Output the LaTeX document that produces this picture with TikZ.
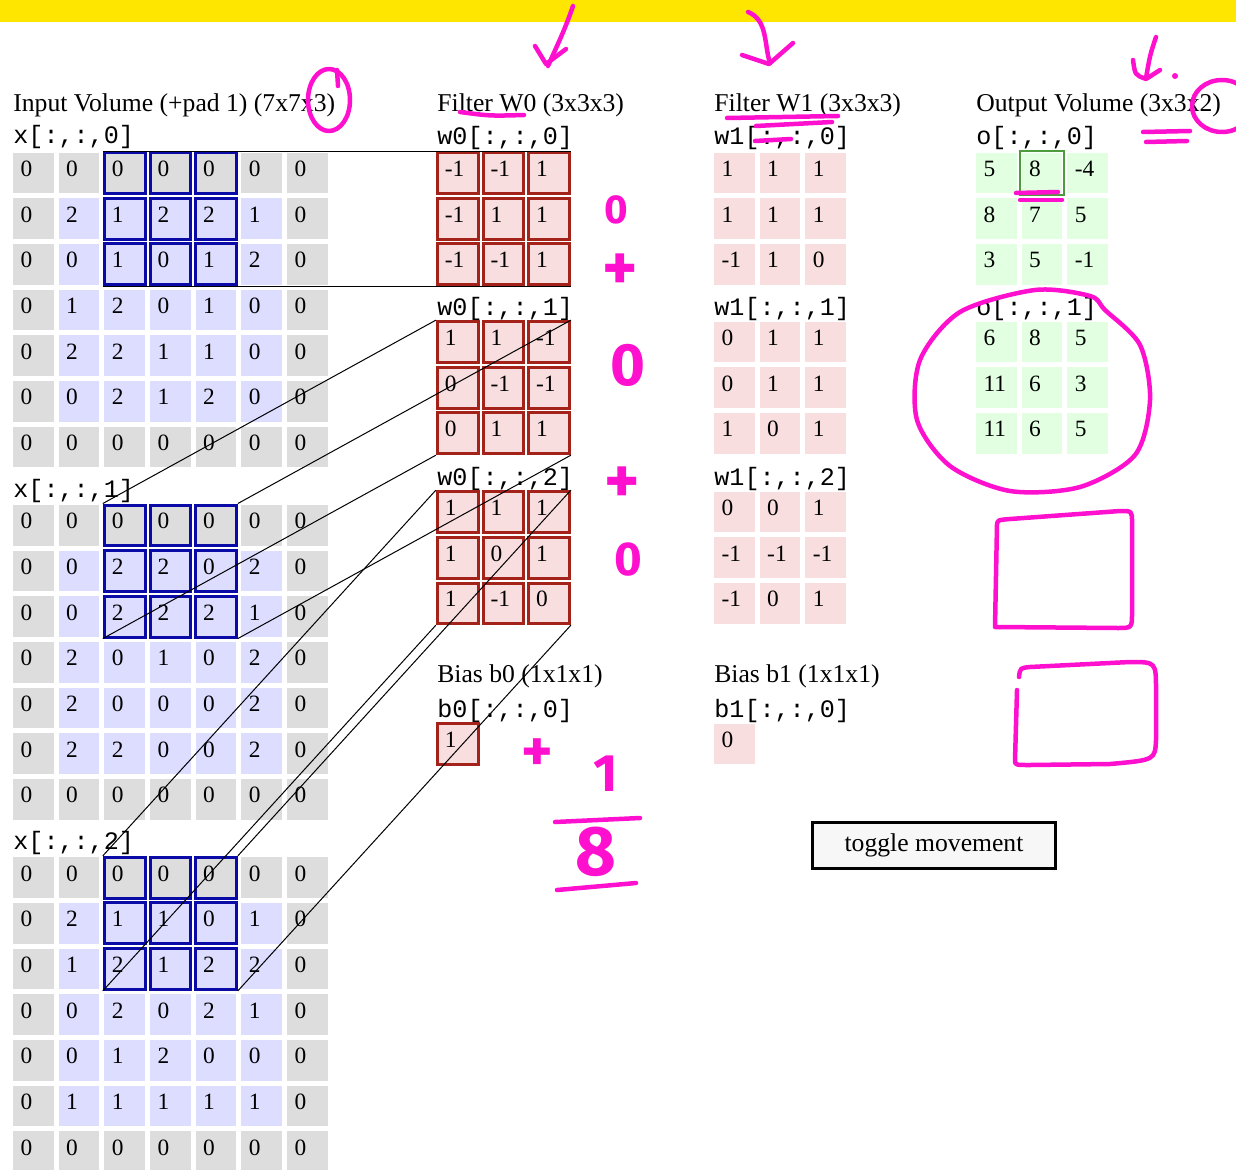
\documentclass[tikz,border=0pt]{standalone}
\usepackage{fontspec}
\setmainfont{Liberation Serif}
\setmonofont{Liberation Mono}
\newfontfamily\handfont{Fira Sans}

\definecolor{padgray}{HTML}{DDDDDD}
\definecolor{lavender}{HTML}{DDDDFF}
\definecolor{hlblue}{HTML}{0A0AA6}
\definecolor{wpink}{HTML}{F8DEDE}
\definecolor{wred}{HTML}{A3231A}
\definecolor{ogreen}{HTML}{E2FFE2}
\definecolor{hlgreen}{HTML}{4C9B3C}
\definecolor{inkpink}{HTML}{FF10CF}
\definecolor{baryellow}{HTML}{FFE600}
\definecolor{btngray}{HTML}{F7F7F7}

% 7x7 input slice: name, y of first row, rows
\newcommand{\padgrid}[3]{%
  \foreach \row [count=\ri from 0] in {#3} {
    \foreach \v [count=\ci from 0] in \row {
      \pgfmathtruncatemacro\pad{(\ri==0)||(\ri==6)||(\ci==0)||(\ci==6)}
      \pgfmathtruncatemacro\hl{(\ri<3)&&(\ci>1)&&(\ci<5)}
      \ifnum\pad=1 \def\fillc{padgray}\else\def\fillc{lavender}\fi
      \ifnum\hl=1 \def\drawc{hlblue}\else\def\drawc{none}\fi
      \node[cell, fill=\fillc, draw=\drawc] (#1-\ri-\ci)
        at (33.35+45.67*\ci, #2+45.67*\ri) {\v};
    }
  }
}

% 3x3 slice: name, x, y, style, rows
\newcommand{\wgrid}[5]{%
  \foreach \row [count=\ri from 0] in {#5} {
    \foreach \v [count=\ci from 0] in \row {
      \node[#4] (#1-\ri-\ci) at (#2+45.67*\ci, #3+45.67*\ri) {\v};
    }
  }
}

\begin{document}
\begin{tikzpicture}[
    x=0.02cm, y=-0.02cm,
    cell/.style={
	minimum width=0.814cm,
	minimum height=0.814cm,
	inner sep=0pt, inner xsep=0.15cm,
	text width=0.514cm, align=left,
	text depth=4.8pt,
	line width=0.06cm,
	font=\fontsize{13.3}{15}\selectfont
    },
    wcell/.style={cell, fill=wpink, draw=wred},
    vcell/.style={cell, fill=wpink},
    ocell/.style={cell, fill=ogreen},
    title/.style={anchor=base west, inner sep=0pt,
	font=\fontsize{14.6}{17}\selectfont},
    tag/.style={anchor=base west, inner sep=0pt,
	font=\fontsize{14.3}{17}\selectfont\ttfamily},
    link/.style={line width=0.02cm},
    ink/.style={draw=inkpink, line width=0.09cm, line cap=round, line join=round},
    hand/.style={text=inkpink, inner sep=0pt, font=\handfont\bfseries}
]
	\useasboundingbox (0,0) rectangle (1236,1169);
	\fill[baryellow] (0,0) rectangle (1236,22);

	% Titles
	\node[title] (intitle) at (13,112) {Input Volume (+pad 1) (7x7x3)};
	\node[title] (w0title) at (437,112) {Filter W0 (3x3x3)};
	\node[title] (w1title) at (714,112) {Filter W1 (3x3x3)};
	\node[title] (otitle) at (976,112) {Output Volume (3x3x2)};
	\node[title] (b0title) at (437,682) {Bias b0 (1x1x1)};
	\node[title] (b1title) at (714,682) {Bias b1 (1x1x1)};

	% Input volume
	\node[tag] (xl0) at (13,144) {x[:,:,0]};
	\padgrid{xk0}{173}{{0,0,0,0,0,0,0},{0,2,1,2,2,1,0},{0,0,1,0,1,2,0},
	    {0,1,2,0,1,0,0},{0,2,2,1,1,0,0},{0,0,2,1,2,0,0},{0,0,0,0,0,0,0}}
	\node[tag] (xl1) at (13,497) {x[:,:,1]};
	\padgrid{xk1}{525.35}{{0,0,0,0,0,0,0},{0,0,2,2,0,2,0},{0,0,2,2,2,1,0},
	    {0,2,0,1,0,2,0},{0,2,0,0,0,2,0},{0,2,2,0,0,2,0},{0,0,0,0,0,0,0}}
	\node[tag] (xl2) at (13,849) {x[:,:,2]};
	\padgrid{xk2}{877.65}{{0,0,0,0,0,0,0},{0,2,1,1,0,1,0},{0,1,2,1,2,2,0},
	    {0,0,2,0,2,1,0},{0,0,1,2,0,0,0},{0,1,1,1,1,1,0},{0,0,0,0,0,0,0}}

	% Filter W0
	\node[tag] (w0l0) at (437,145) {w0[:,:,0]};
	\wgrid{w0k0}{457.7}{173}{wcell}{{-1,-1,1},{-1,1,1},{-1,-1,1}}
	\node[tag] (w0l1) at (437,315) {w0[:,:,1]};
	\wgrid{w0k1}{457.7}{342}{wcell}{{1,1,-1},{0,-1,-1},{0,1,1}}
	\node[tag] (w0l2) at (437,485) {w0[:,:,2]};
	\wgrid{w0k2}{457.7}{512}{wcell}{{1,1,1},{1,0,1},{1,-1,0}}
	\node[tag] (b0l) at (437,717) {b0[:,:,0]};
	\node[wcell] (b0) at (457.7,744) {1};

	% Filter W1
	\node[tag] (w1l0) at (714,145) {w1[:,:,0]};
	\wgrid{w1k0}{734.4}{173}{vcell}{{1,1,1},{1,1,1},{-1,1,0}}
	\node[tag] (w1l1) at (714,315) {w1[:,:,1]};
	\wgrid{w1k1}{734.4}{342}{vcell}{{0,1,1},{0,1,1},{1,0,1}}
	\node[tag] (w1l2) at (714,485) {w1[:,:,2]};
	\wgrid{w1k2}{734.4}{512}{vcell}{{0,0,1},{-1,-1,-1},{-1,0,1}}
	\node[tag] (b1l) at (714,717) {b1[:,:,0]};
	\node[vcell] (b1) at (734.4,744) {0};

	% Output volume
	\node[tag] (ol0) at (976,145) {o[:,:,0]};
	\wgrid{ok0}{996.4}{173}{ocell}{{5,8,-4},{8,7,5},{3,5,-1}}
	\node[tag] (ol1) at (976,315) {o[:,:,1]};
	\wgrid{ok1}{996.4}{342}{ocell}{{6,8,5},{11,6,3},{11,6,5}}
	\draw[hlgreen, line width=0.05cm] (ok0-0-1.north west) rectangle (ok0-0-1.south east);

	% Receptive field -> filter slice
	\foreach \k in {0,1,2} {
	    \draw[link] (xk\k-0-2.north west) -- (w0k\k-0-0.north west);
	    \draw[link] (xk\k-0-4.north east) -- (w0k\k-0-2.north east);
	    \draw[link] (xk\k-2-2.south west) -- (w0k\k-2-0.south west);
	    \draw[link] (xk\k-2-4.south east) -- (w0k\k-2-2.south east);
	}

	\node[draw, line width=0.06cm, fill=btngray, minimum width=4.86cm,
	    minimum height=0.92cm, font=\fontsize{14.6}{17}\selectfont]
	    (toggle) at (934,845.5) {toggle movement};

	% Pen marks
	\draw[ink] (329,100) ellipse [x radius=21, y radius=31];
	\draw[ink] (337,70) -- (338,86);
	\draw[ink] (573,6) .. controls (565,30) and (555,50) .. (548,66);
	\draw[ink] (535,46) -- (546,64) -- (566,49);
	\draw[ink] (460,112) .. controls (490,116) .. (524,115);
	\draw[ink] (748,12) .. controls (768,20) and (764,45) .. (770,63);
	\draw[ink] (742,55) -- (769,64) -- (793,43);
	\draw[ink] (727,118) -- (838,116);
	\draw[ink] (756,126) -- (832,122);
	\draw[ink] (755,141) -- (791,139);
	\draw[ink] (1156,37) .. controls (1150,55) .. (1146,78);
	\draw[ink] (1133,60) .. controls (1135,75) .. (1146,79) -- (1160,70);
	\fill[inkpink] (1175,76) circle [radius=3];
	\draw[ink] (1222,106) ellipse [x radius=30, y radius=26];
	\draw[ink] (1143,132) -- (1190,131);
	\draw[ink] (1146,142) -- (1187,141);
	\draw[ink] (1016,193) -- (1058,192);
	\draw[ink] (1020,200) -- (1062,200);
	\draw[ink] plot[smooth cycle] coordinates {(1105,310) (1140,345) (1150,400)
	    (1135,455) (1080,487) (1010,491) (950,466) (917,420) (920,360)
	    (960,312) (1035,290) (1090,296)};
	\draw[ink] (997,524) -- (995,627) -- (1118,628) .. controls (1132,628) ..
	    (1132,612) -- (1132,522) .. controls (1132,511) .. (1120,511)
	    -- (1010,519) .. controls (998,520) .. (997,524);
	\draw[ink] (1017,690) -- (1015,760) .. controls (1015,765) .. (1030,765)
	    -- (1110,764) .. controls (1155,760) .. (1156,740) -- (1156,690)
	    .. controls (1156,662) .. (1130,662) -- (1030,667)
	    .. controls (1020,668) .. (1019,677);
	\draw[ink] (555,822) -- (640,818);
	\draw[ink] (557,890) -- (636,883);

	\node[hand, font=\handfont\bfseries\fontsize{23}{23}\selectfont] (s1) at (616,210) {0};
	\node[hand, font=\handfont\bfseries\fontsize{38}{38}\selectfont] (p1) at (620,272) {+};
	\node[hand, font=\handfont\bfseries\fontsize{34}{34}\selectfont] (s2) at (628,365) {0};
	\node[hand, font=\handfont\bfseries\fontsize{38}{38}\selectfont] (p2) at (622,485) {+};
	\node[hand, font=\handfont\bfseries\fontsize{27}{27}\selectfont] (s3) at (628,560) {0};
	\node[hand, font=\handfont\bfseries\fontsize{34}{34}\selectfont] (p3) at (537,755) {+};
	\node[hand, font=\handfont\bfseries\fontsize{30}{30}\selectfont] (n1) at (606,774) {1};
	\node[hand, font=\handfont\bfseries\fontsize{40}{40}\selectfont] (n8) at (596,852) {8};
\end{tikzpicture}
\end{document}
